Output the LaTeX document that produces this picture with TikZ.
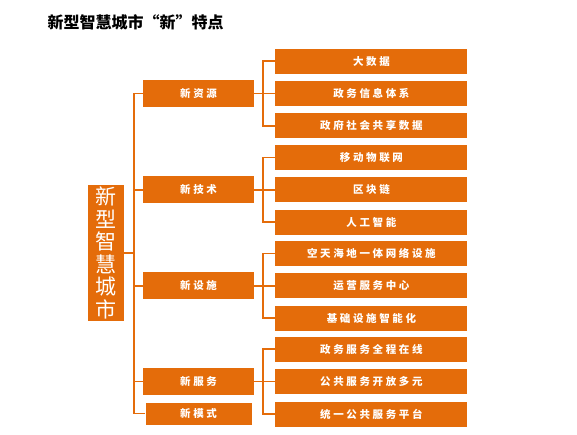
\documentclass[tikz,border=0pt]{standalone}
\usepackage{fontspec}
\newfontfamily\cjk{Noto Sans CJK SC}
\newfontfamily\cjkspaced[LetterSpace=25]{Noto Sans CJK SC}
\usetikzlibrary{positioning}
\definecolor{orangebox}{HTML}{E46C0A}

\begin{document}
\begin{tikzpicture}[
  x=1pt,y=1pt,
  node distance=7pt,
  root/.style={fill=orangebox,text=white,minimum width=36pt,minimum height=136pt,
    inner sep=0pt,align=center,font=\cjk\fontsize{21}{22.5}\selectfont},
  branch/.style={fill=orangebox,text=white,minimum width=111pt,minimum height=27pt,
    inner sep=0pt,font=\cjkspaced\bfseries\fontsize{10.5}{12}\selectfont},
  leaf/.style={branch,minimum width=192pt,minimum height=25pt},
  link/.style={draw=orangebox,line width=1.6pt}
]
  \useasboundingbox (0,0) rectangle (577,435);
  \node[anchor=west,font=\cjk\bfseries\fontsize{16}{18}\selectfont] (title) at (44,413) {新型智慧城市“新”特点};

  \node[root] (city) at (106,182) {新\\型\\智\\慧\\城\\市};

  \node[branch] (res) at (198.5,341.5) {新资源};
  \node[branch,below=69pt of res] (tech) {新技术};
  \node[branch,below=68.5pt of tech] (infra) {新设施};
  \node[branch,below=68.5pt of infra] (serv) {新服务};
  \node[branch,below=7pt of serv,minimum width=106pt,minimum height=22pt] (mode) {新模式};

  \node[leaf,right=21pt of res] (govinfo) {政务信息体系};
  \node[leaf,above=of govinfo] (bigdata) {大数据};
  \node[leaf,below=of govinfo] (shared) {政府社会共享数据};

  \node[leaf,right=21pt of tech] (chain) {区块链};
  \node[leaf,above=of chain] (iot) {移动物联网};
  \node[leaf,below=of chain] (ai) {人工智能};

  \node[leaf,right=21pt of infra] (opscenter) {运营服务中心};
  \node[leaf,above=of opscenter] (network) {空天海地一体网络设施};
  \node[leaf,below=of opscenter] (smartinfra) {基础设施智能化};

  \node[leaf,right=21pt of serv] (openserv) {公共服务开放多元};
  \node[leaf,above=of openserv] (online) {政务服务全程在线};
  \node[leaf,below=of openserv] (platform) {统一公共服务平台};

  % trunk
  \draw[link] (city.east) -- ++(10,0) coordinate (trunk);
  \draw[link] (res.west) -| (trunk) |- (mode.west);
  \draw[link] (tech.west) -- (tech.west -| trunk);
  \draw[link] (infra.west) -- (infra.west -| trunk);
  \draw[link] (serv.west) -- (serv.west -| trunk);

  % forks
  \draw[link] (res.east) -- (govinfo.west);
  \path (res.east) -- ++(9,0) coordinate (resfork);
  \draw[link] (bigdata.west) -| (resfork) |- (shared.west);

  \draw[link] (tech.east) -- (chain.west);
  \path (tech.east) -- ++(9,0) coordinate (techfork);
  \draw[link] (iot.west) -| (techfork) |- (ai.west);

  \draw[link] (infra.east) -- (opscenter.west);
  \path (infra.east) -- ++(9,0) coordinate (infrafork);
  \draw[link] (network.west) -| (infrafork) |- (smartinfra.west);

  \draw[link] (serv.east) -- (openserv.west);
  \path (serv.east) -- ++(9,0) coordinate (servfork);
  \draw[link] (online.west) -| (servfork) |- (platform.west);
\end{tikzpicture}
\end{document}
